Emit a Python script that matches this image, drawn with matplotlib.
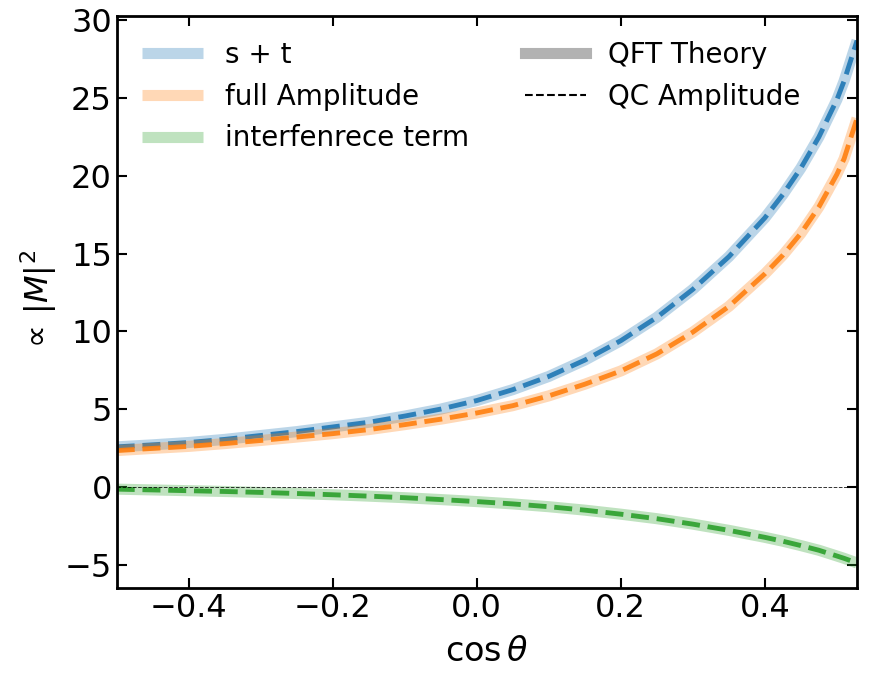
import numpy as np
import matplotlib
matplotlib.use('Agg')
import matplotlib.pyplot as plt
from matplotlib.lines import Line2D

# valores
cos_theta = [-0.5, -0.45, -0.4, -0.35, -0.3, -0.25, -0.2, -0.15, -0.1, -0.05, 0.0,
             0.05, 0.1, 0.15, 0.2, 0.25, 0.3, 0.35, 0.4, 0.425, 0.45, 0.475, 0.5, 0.51, 0.528]
s_plus_t = [2.57, 2.70, 2.85, 3.05, 3.30, 3.55, 3.85, 4.15, 4.55, 5.00, 5.55,
            6.25, 7.10, 8.15, 9.40, 10.9, 12.7, 14.8, 17.3, 18.8, 20.5, 22.5, 24.9, 26.1, 28.7]
full_amp = [2.33, 2.47, 2.60, 2.78, 2.98, 3.20, 3.42, 3.68, 4.00, 4.35, 4.75,
            5.22, 5.85, 6.60, 7.45, 8.55, 9.95, 11.6, 13.7, 14.9, 16.3, 18.0, 20.1, 21.1, 23.7]
interf = [-0.15, -0.20, -0.25, -0.30, -0.36, -0.43, -0.51, -0.60, -0.70, -0.82, -0.95,
          -1.10, -1.28, -1.50, -1.76, -2.05, -2.40, -2.80, -3.25, -3.50, -3.78, -4.08, -4.45, -4.60, -4.90]

series = [(s_plus_t, 'tab:blue', 's + t'),
          (full_amp, 'tab:orange', 'full Amplitude'),
          (interf, 'tab:green', 'interfenrece term')]

fig = plt.figure(figsize=(8.71, 6.82), dpi=100)
ax = fig.add_axes([0.134, 0.138, 0.850, 0.839])

handles = []
for vals, col, lab in series:
    h, = ax.plot(cos_theta, vals, color=col, lw=8, alpha=0.3, label=lab,
                 solid_capstyle='butt')
    ax.plot(cos_theta, vals, color=col, lw=3.5, ls='--', alpha=0.9)
    handles.append(h)

ax.axhline(0, color='k', ls='--', lw=0.7, alpha=0.8)

handles.append(Line2D([], [], color='k', lw=8, alpha=0.3, label='QFT Theory'))
handles.append(Line2D([], [], color='k', lw=1.5, ls='--', label='QC Amplitude'))

ax.legend(handles=handles, ncol=2, loc='upper left', frameon=False, fontsize=20,
          handlelength=2.2)

ax.set_xlim(-0.5, 0.528)
ax.set_ylim(-6.5, 30.3)
ax.set_xticks([-0.4, -0.2, 0.0, 0.2, 0.4])
ax.set_yticks([-5, 0, 5, 10, 15, 20, 25, 30])
ax.tick_params(direction='in', top=True, right=True, labelsize=23,
               length=7, width=1.5)
for sp in ax.spines.values():
    sp.set_linewidth(2)

ax.set_xlabel(r'$\cos\theta$', fontsize=24, labelpad=8)
ax.set_ylabel(r'$\propto\,|M|^2$', fontsize=23, labelpad=4)

fig.savefig('out.png', dpi=100)
